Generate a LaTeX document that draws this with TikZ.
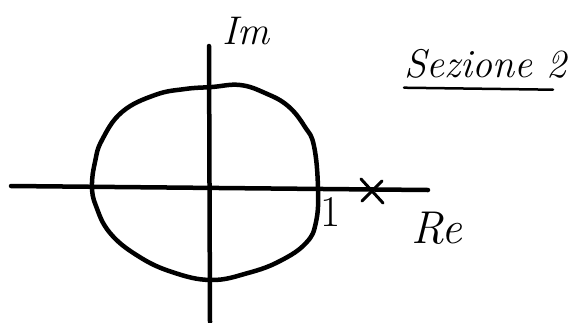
\documentclass[tikz,border=0pt]{standalone}
\begin{document}
\begin{tikzpicture}[x=1pt,y=-1pt,
    hand/.style={line width=4.5pt, line cap=round, line join=round},
    label/.style={inner sep=0pt, font=\fontsize{40}{48}\selectfont\itshape}]
    \useasboundingbox (0,0) rectangle (575,322);

    % Axes
    \coordinate (reL) at (11,186);
    \coordinate (reR) at (428,190);
    \coordinate (imT) at (209,46);
    \coordinate (imB) at (210,322);
    \draw[hand] (reL) -- (reR);
    \draw[hand] (imT) -- (imB);

    % Closed curve round the origin
    \draw[hand] plot[smooth cycle, tension=0.7] coordinates {
      (212,87) (240,85) (265,93) (288,106) (305,127) (314,146)
      (318,188) (316,222) (306,243) (280,261) (248,273) (211,280)
      (172,272) (138,256) (110,233) (96,206) (92,186) (95,162)
      (102,140) (122,112) (155,95) (185,89)};

    % Axis labels
    \node[label] (im) at (246,31) {Im};
    \node[label, font=\fontsize{46}{54}\selectfont\itshape] (re) at (437,228) {Re};
    \node[label, font=\fontsize{44}{50}\selectfont] (one) at (331,212) {1};

    % Cross on the real axis
    \coordinate (pole) at (372,190);
    \draw[line width=3pt, line cap=round] (pole) ++(-11,-11) -- ++(22,24);
    \draw[line width=3pt, line cap=round] (pole) ++(-10,11) -- ++(20,-20);

    % Title
    \node[label, font=\fontsize{40}{46}\selectfont\itshape, anchor=west] (sez) at (404,64) {Sezione 2};
    \draw[line width=2.5pt, line cap=round] (sez.south west) ++(0,9) coordinate (ulA) -- ++(149,2) coordinate (ulB);
\end{tikzpicture}
\end{document}
